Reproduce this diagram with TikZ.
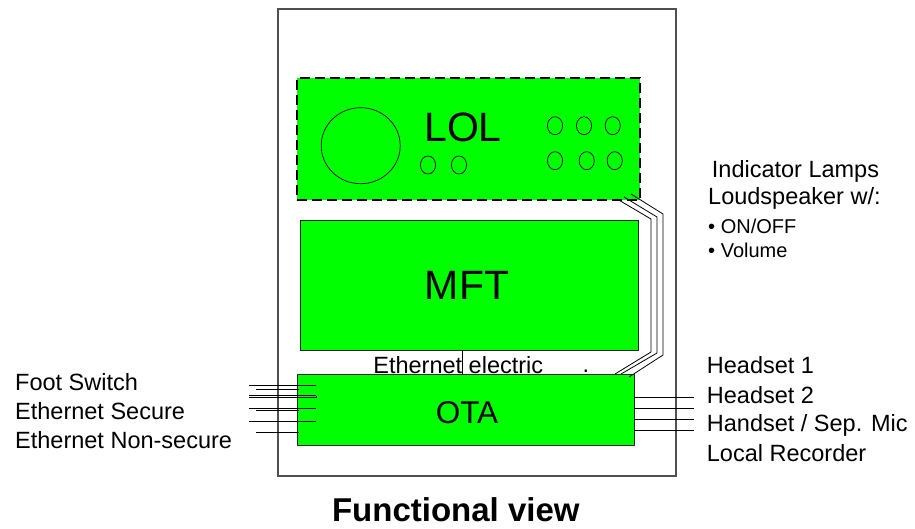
\documentclass[tikz,border=0pt]{standalone}
\usepackage{fontspec}
\setmainfont{Liberation Sans}
\definecolor{lime}{RGB}{0,255,0}
\definecolor{framegray}{RGB}{80,80,80}
\begin{document}
\begin{tikzpicture}[x=1pt,y=-1pt,
  greenbox/.style={draw=black!85,fill=lime,line width=0.9pt,inner sep=0pt,anchor=north west},
  lbl/.style={inner sep=0pt,anchor=base west,font=\fontsize{23.5}{28}\selectfont},
  sml/.style={inner sep=0pt,anchor=base west,font=\fontsize{20}{24}\selectfont},
  big/.style={inner sep=0pt,font=\fontsize{41}{48}\selectfont},
  wire/.style={line width=0.8pt,black},
  lamp/.style={draw=black,line width=0.7pt}]
\useasboundingbox (0,0) rectangle (915,529);
% outer frame
\draw[framegray,line width=1.1pt] (278,9) rectangle (676,476);
% boxes
\node[greenbox,dashed,draw=black,line width=1.6pt,dash pattern=on 10pt off 5pt,minimum width=343pt,minimum height=122pt] (lol) at (296,77) {};
\node[greenbox,minimum width=338pt,minimum height=130pt] (mft) at (300,220) {};
\node[greenbox,minimum width=337pt,minimum height=71pt] (ota) at (297,374) {};
% box texts
\node[big] (loltext) at (463,127) {LOL};
\node[big] (mfttext) at (467,285) {MFT};
\node[inner sep=0pt,font=\fontsize{31.5}{36}\selectfont] (otatext) at (467,413) {OTA};
% LOL lamps
\draw[lamp] (360.7,145.7) ellipse [x radius=39.5, y radius=38];
\foreach \px/\py in {428/165, 459/165, 555/125.7, 584/125.7, 612.7/125.7, 555/160.7, 586.7/160.7, 614.7/160.7}
  \draw[lamp] (\px,\py) ellipse [x radius=7.6, y radius=9];
% LOL-OTA cable
\coordinate (a1) at (617,199); \coordinate (b1) at (615,374);
\coordinate (a2) at (624,197); \coordinate (b2) at (621,374);
\coordinate (a3) at (631,194); \coordinate (b3) at (629,377);
\draw[wire] (a1) -- (651,219) -- (651,352) -- (b1);
\draw[wire] (a2) -- (657,217) -- (657,353) -- (b2);
\draw[wire] (a3) -- (663,214) -- (663,355) -- (b3);
% Ethernet electric
\node[lbl,anchor=base] (eth) at (458.3,373.3) {Ethernet electric};
\draw[wire] (462,350) -- (462,375);
\node[inner sep=0pt,anchor=base,font=\fontsize{23.5}{28}\selectfont] (dot) at (586,372) {.};
% left wires
\foreach \yy in {385.7,395.7,397.5,408.3,421.7}
  \draw[wire] (249,\yy) coordinate (la) -- (316,\yy) coordinate (lb);
\draw[wire] (316,395.7) -- (316,397.5);
\foreach \yy in {389,410,432}
  \draw[wire] (256,\yy) coordinate (sa) -- (299,\yy) coordinate (sb);
% right wires
\foreach \yy in {397.7,408.3,419,430}
  \draw[wire] (634,\yy) coordinate (ra) -- (694,\yy) coordinate (rb);
% left labels
\node[lbl] (fs) at (15,390.7) {Foot Switch};
\node[lbl] (es) at (15,419) {Ethernet Secure};
\node[lbl] (en) at (15,448) {Ethernet Non-secure};
% right labels
\node[lbl] (h1) at (706.7,373.3) {Headset 1};
\node[lbl] (h2) at (706.7,403.3) {Headset 2};
\node[lbl] (hs) at (706.7,431.7) {Handset / Sep. Mic};
\node[lbl] (lr) at (706.7,461) {Local Recorder};
\node[lbl] (il) at (711.7,177.3) {Indicator Lamps};
\node[lbl] (ls) at (708,205) {Loudspeaker w/:};
\node[sml] (on) at (708,233.3) {• ON/OFF};
\node[sml] (vol) at (708,257.3) {• Volume};
% title
\node[inner sep=0pt,anchor=base,font=\fontsize{33}{40}\bfseries\selectfont] (title) at (455.8,521) {Functional view};
\end{tikzpicture}
\end{document}
